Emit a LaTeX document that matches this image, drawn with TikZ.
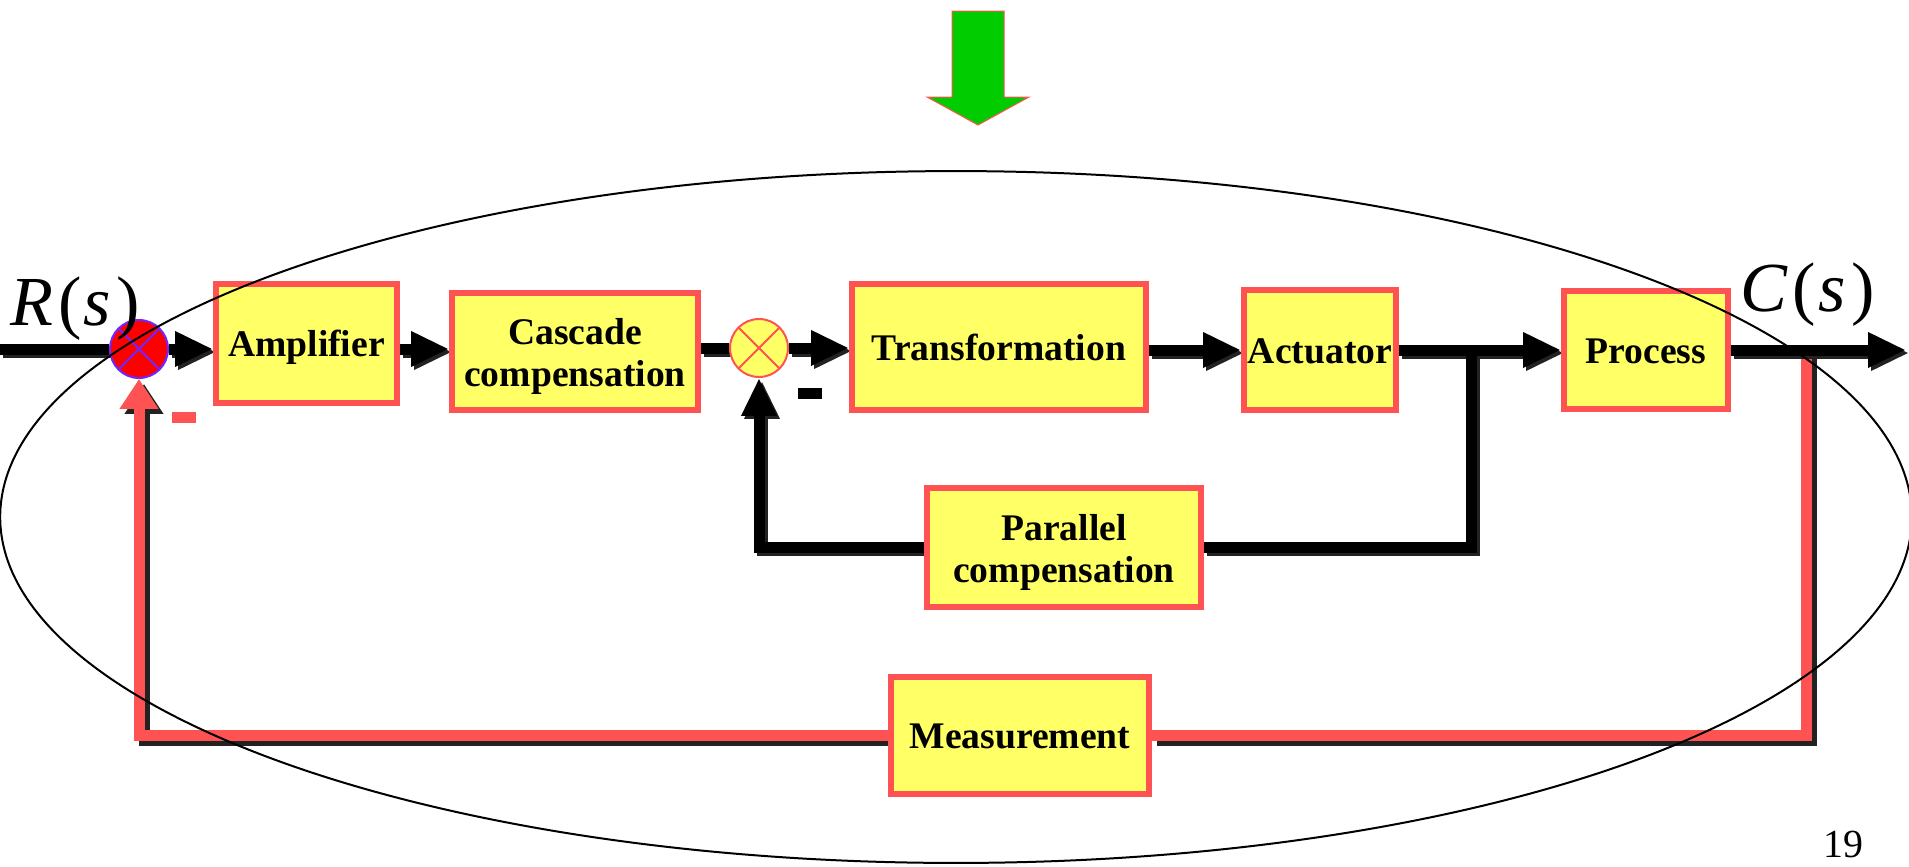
\documentclass[tikz,border=0pt]{standalone}
\usepackage{fontspec}
\setmainfont{Liberation Serif}
\usetikzlibrary{arrows.meta}
\pgfdeclarelayer{background}
\pgfsetlayers{background,main}
\definecolor{boxfill}{RGB}{255,255,102}
\definecolor{boxline}{RGB}{255,82,82}
\definecolor{jred}{RGB}{255,0,0}
\definecolor{jpurple}{RGB}{110,40,255}
\definecolor{garrow}{RGB}{0,204,0}
\definecolor{shade}{RGB}{34,34,34}
\newcommand\bS[2]{\draw[bwire,#1,draw=shade,transform canvas={shift={(3,3)}}] #2;}
\newcommand\bL[2]{\draw[bwire,#1] #2;}
\newcommand\rS[2]{\draw[rwire,#1,draw=shade,transform canvas={shift={(5,5)}}] #2;}
\newcommand\rL[2]{\draw[rwire,#1] #2;}
\newcommand\blackwires[1]{%
  #1{}{(inp) -- (j1.west)}%
  #1{tipb}{(j1.east) -- (amp.west |- j1)}%
  #1{tipb}{(amp.east |- j1) -- (casc.west |- j1)}%
  #1{}{(casc.east |- j2) -- (j2.west)}%
  #1{tipb}{(j2.east) -- (trans.west |- j2)}%
  #1{tipb}{(trans.east |- act) -- (act.west)}%
  #1{tipb}{(act.east) -- (proc.west)}%
  #1{}{(br1) |- (par.east)}%
  #1{tipb}{(par.west) -| (j2.south)}%
  #1{tipb}{(proc.east) -- (outp)}%
}
\newcommand\redwires[1]{%
  #1{}{(br2) |- (meas.east)}%
  #1{tipr}{(meas.west) -| (j1.south)}%
}
\newcommand\topstrut{\rule{0pt}{20.5pt}}
\begin{document}
\begin{tikzpicture}[x=0.02cm,y=-0.02cm,
  box/.style={draw=boxline, fill=boxfill, line width=0.12cm, inner sep=0pt, align=center,
    font=\bfseries\fontsize{21.4}{24.2}\selectfont},
  oneline/.style={text height=15.2pt, text depth=0pt},
  jun/.style={circle, inner sep=0pt, minimum size=1.16cm, line width=0.04cm},
  xmark/.style={path picture={\draw[#1, line width=0.04cm]
    (path picture bounding box.north west) -- (path picture bounding box.south east)
    (path picture bounding box.north east) -- (path picture bounding box.south west);}},
  bwire/.style={line width=0.22cm, draw=black},
  rwire/.style={line width=0.22cm, draw=boxline},
  tipb/.style={-{Triangle[length=0.76cm,width=0.66cm]}},
  tipr/.style={-{Triangle[length=0.6cm,width=0.74cm]}},
  minusbox/.style={inner sep=0pt, minimum width=0.48cm, minimum height=0.22cm},
  signal/.style={anchor=base west, inner sep=0pt, font=\fontsize{40}{48}\selectfont},
]
\useasboundingbox (0,0) rectangle (1909,866);

% green arrow
\draw[draw=boxline, fill=garrow, line width=0.02cm]
  (952,11) -- (1004,11) -- (1004,97) -- (1029,97) -- (978,125) -- (927,97) -- (952,97) -- cycle;

% blocks
\node[box, oneline, minimum width=3.62cm, minimum height=2.38cm] (amp) at (306.5,343.5) {Amplifier};
\node[box, minimum width=4.92cm, minimum height=2.34cm] (casc) at (575,351.5) {\topstrut Cascade\\compensation};
\node[box, oneline, minimum width=5.88cm, minimum height=2.52cm] (trans) at (999,347) {Transformation};
\node[box, oneline, minimum width=3.04cm, minimum height=2.40cm] (act) at (1320,350) {Actuator};
\node[box, oneline, minimum width=3.28cm, minimum height=2.36cm] (proc) at (1646,350) {Process};
\node[box, minimum width=5.48cm, minimum height=2.38cm] (par) at (1064,547.5) {\topstrut Parallel\\compensation};
\node[box, oneline, minimum width=5.16cm, minimum height=2.34cm] (meas) at (1020,735.5) {Measurement};

% summing junctions
\node[jun, draw=jpurple, fill=jred, xmark=jpurple] (j1) at (139,349) {};
\node[jun, draw=boxline, fill=boxfill, xmark=boxline] (j2) at (759,348) {};

% free ends and branch points
\coordinate (inp) at (0,349);
\coordinate (outp) at (1906,350);
\coordinate (br1) at (1471,350);
\coordinate (br2) at (1806,350);

% connectors
\begin{pgfonlayer}{background}
\redwires\rS
\redwires\rL
\blackwires\bS
\blackwires\bL
\end{pgfonlayer}

% minus signs
\node[minusbox, fill=boxline] (mA) at (184,417.5) {};
\node[minusbox, fill=black] (mB) at (810,393.5) {};

% signal labels
\node[signal] (Rs) at (10,325) {\textit{R}\kern0.07em(\kern0.03em\textit{s}\kern0.08em)};
\node[signal] (Cs) at (1740,311) {\textit{C}\kern0.07em(\kern0.03em\textit{s}\kern0.08em)};
\node[anchor=base west, inner sep=0pt, font=\fontsize{22.7}{27}\selectfont] (pg) at (1823,857) {19};

% ellipse
\draw[line width=0.04cm] (956,517) ellipse [x radius=19.12cm, y radius=6.92cm];
\end{tikzpicture}
\end{document}
